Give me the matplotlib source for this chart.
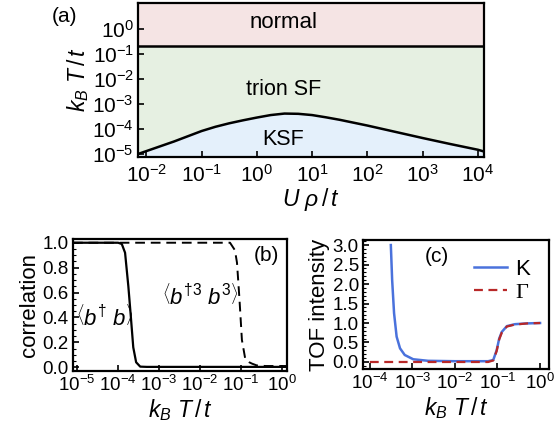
import numpy as np
import matplotlib
matplotlib.use("Agg")
import matplotlib.pyplot as plt
from matplotlib.ticker import (LogLocator, MultipleLocator, NullLocator, FixedLocator,
                               FormatStrFormatter)

plt.rcParams['font.family'] = ['Liberation Sans', 'DejaVu Sans']
plt.rcParams['mathtext.fontset'] = 'custom'
plt.rcParams['mathtext.rm'] = 'Liberation Sans'
plt.rcParams['mathtext.it'] = 'Liberation Sans:italic'
plt.rcParams['mathtext.bf'] = 'Liberation Sans:bold'

# (a) phase diagram: KSF boundary (log10 U rho/t, log10 kB T/t)
ksf_logU = [-2.15, -1.5, -1.0, -0.75, -0.5, -0.25, 0.0, 0.25, 0.5, 0.75, 1.0, 1.25, 1.5,
            2.0, 2.5, 3.0, 3.5, 4.0, 4.11]
ksf_logT = [-5.00, -4.50, -4.08, -3.91, -3.77, -3.65, -3.54, -3.44, -3.38, -3.39, -3.44, -3.53, -3.63,
            -3.86, -4.11, -4.36, -4.60, -4.83, -4.90]
T_normal = 0.22
a_yticks = [1e-5, 1e-4, 1e-3, 1e-2, 1e-1, 1e0]

# (b) correlations vs log10 kB T/t
b1_logT = [-5.1, -4.0, -3.91, -3.83, -3.75, -3.69, -3.63, -3.56, -3.46, -3.3, 0.12]
b1_val = [1.0, 1.0, 0.99, 0.92, 0.65, 0.41, 0.16, 0.04, 0.005, 0.003, 0.003]
b3_logT = [-5.1, -1.27, -1.15, -1.10, -1.04, -0.98, -0.90, -0.80, -0.74, -0.62, -0.4, 0.12]
b3_val = [1.0, 1.0, 0.94, 0.84, 0.55, 0.22, 0.07, 0.04, 0.03, 0.015, 0.01, 0.01]

# (c) TOF intensity
K_logT = [-3.506, -3.475, -3.43, -3.37, -3.29, -3.18, -2.98, -2.63, -2.0, -1.22, -1.10, -1.02, -0.96,
          -0.90, -0.78, -0.59, -0.3, 0.0]
K_val = [3.0, 2.1, 1.25, 0.65, 0.35, 0.18, 0.07, 0.03, 0.02, 0.02, 0.05, 0.3, 0.6, 0.77, 0.92, 0.97, 0.99, 1.0]
G_logT = [-4.0, -2.0, -1.22, -1.10, -1.02, -0.96, -0.90, -0.78, -0.59, -0.3, 0.0]
G_val = [0.0, 0.0, 0.0, 0.04, 0.28, 0.58, 0.75, 0.91, 0.96, 0.99, 1.0]

fig = plt.figure(figsize=(5.54, 4.34), dpi=100)

def style(ax, size):
    for s in ax.spines.values():
        s.set_linewidth(1.6)
    ax.tick_params(which='major', direction='in', length=4, width=1.2, labelsize=size,
                   top=False, right=False, pad=3)
    ax.tick_params(which='minor', direction='in', length=2, width=0.8, top=False, right=False)

# ---- (a)
axa = fig.add_axes([138/554, 1-157/434, 346/554, 154/434])
U = 10**np.array(ksf_logU)
Tc = 10**np.array(ksf_logT)
ylo, yhi = 10**-5.12, 10**1.05
axa.set_xscale('log'); axa.set_yscale('log')
axa.set_xlim(10**-2.15, 10**4.11)
axa.set_ylim(ylo, yhi)
axa.axhspan(T_normal, yhi, color='#f5e4e4', lw=0)
axa.fill_between(U, Tc, T_normal, color='#e6f0e2', lw=0)
axa.fill_between(U, ylo, Tc, color='#e4f0fb', lw=0)
axa.plot(U, Tc, color='black', lw=1.8)
axa.axhline(T_normal, color='black', lw=1.8)
axa.xaxis.set_major_locator(LogLocator(base=10, numticks=20))
axa.yaxis.set_major_locator(FixedLocator(a_yticks))
axa.xaxis.set_minor_locator(NullLocator())
axa.yaxis.set_minor_locator(NullLocator())
style(axa, 15)
axa.tick_params(axis='x', pad=5)
axa.text(10**0.48, 10**0.28, 'normal', ha='center', va='center', fontsize=16)
axa.text(10**0.48, 10**-2.43, 'trion SF', ha='center', va='center', fontsize=15.5)
axa.text(10**0.48, 10**-4.43, 'KSF', ha='center', va='center', fontsize=15.5)
axa.set_xlabel(r'$U\ \rho\,/\,t$', fontsize=16.5, labelpad=0)
axa.set_ylabel(r'$k_B\ T\,/\,t$', fontsize=16.5, labelpad=1)
fig.text(52/554, 1-17/434, '(a)', fontsize=15, ha='left', va='center')

# ---- (b)
axb = fig.add_axes([73/554, 1-371/434, 214/554, 132/434])
axb.set_xscale('log')
axb.plot(10**np.array(b1_logT), b1_val, color='black', lw=1.6)
axb.plot(10**np.array(b3_logT), b3_val, color='black', lw=1.4, ls=(0, (5, 3)))
axb.set_xlim(10**-5.1, 10**0.12)
axb.set_ylim(-0.03, 1.03)
axb.xaxis.set_major_locator(LogLocator(base=10, numticks=20))
axb.xaxis.set_minor_locator(NullLocator())
axb.yaxis.set_major_locator(MultipleLocator(0.2))
axb.yaxis.set_minor_locator(MultipleLocator(0.05))
axb.yaxis.set_major_formatter(FormatStrFormatter('%.1f'))
style(axb, 13.5)
axb.set_ylabel('correlation', fontsize=16, labelpad=2)
axb.set_xlabel(r'$k_B\ T\,/\,t$', fontsize=16.5, labelpad=1)
axb.text(10**-4.32, 0.40, r'$\left\langle b^{\dagger}\ b\right\rangle$', fontsize=16, ha='center', va='center')
axb.text(10**-2.0, 0.57, r'$\left\langle b^{\dagger 3}\ b^{3}\right\rangle$', fontsize=16, ha='center', va='center')
axb.text(10**-0.39, 0.90, '(b)', fontsize=15, ha='center', va='center')

# ---- (c)
axc = fig.add_axes([363/554, 1-369/434, 186/554, 129/434])
axc.set_xscale('log')
axc.plot(10**np.array(K_logT), K_val, color='#4a72dc', lw=1.8, label='K')
axc.plot(10**np.array(G_logT), G_val, color='#b82828', lw=1.6, ls=(0, (4, 2.5)), label='Γ')
axc.set_xlim(10**-4.16, 10**0.21)
axc.set_ylim(-0.18, 3.13)
axc.xaxis.set_major_locator(LogLocator(base=10, numticks=20))
axc.xaxis.set_minor_locator(NullLocator())
axc.yaxis.set_major_locator(MultipleLocator(0.5))
axc.yaxis.set_minor_locator(MultipleLocator(0.1))
axc.yaxis.set_major_formatter(FormatStrFormatter('%.1f'))
style(axc, 13.5)
axc.set_ylabel('TOF intensity', fontsize=16, labelpad=2)
axc.set_xlabel(r'$k_B\ T\,/\,t$', fontsize=16.5, labelpad=1)
axc.text(10**-2.42, 2.7, '(c)', fontsize=15, ha='center', va='center')
leg = axc.legend(loc='upper right', frameon=False, fontsize=16, handlelength=1.5,
                 handletextpad=0.35, borderaxespad=0.45, labelspacing=0.1)
leg.get_texts()[1].set_family('Liberation Serif')

fig.savefig('out.png', dpi=100)
